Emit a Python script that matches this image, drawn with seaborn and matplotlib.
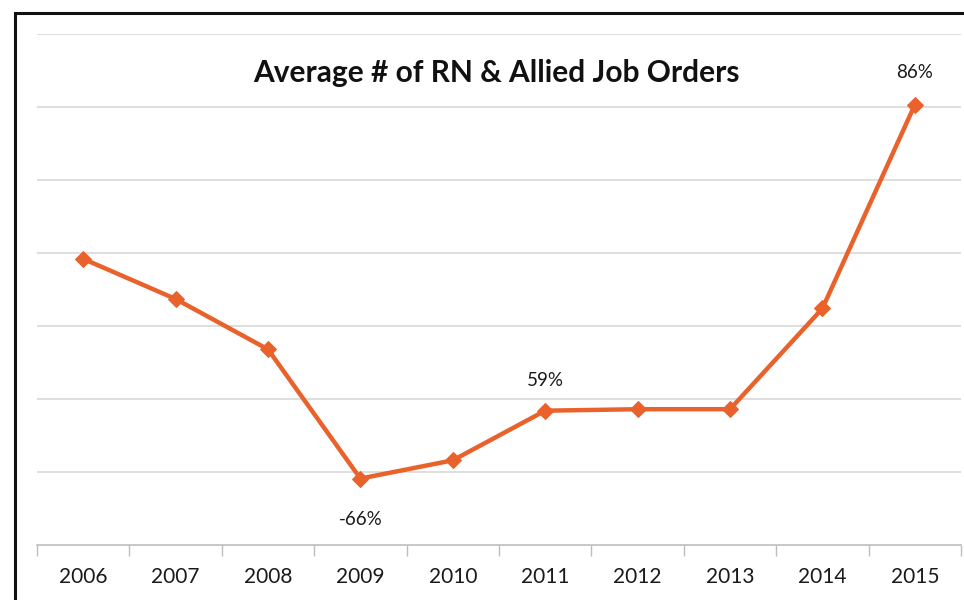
import matplotlib
matplotlib.use("Agg")
import matplotlib.pyplot as plt
import seaborn as sns
import pandas as pd
import numpy as np
from matplotlib.patches import Rectangle

# Average number of RN & allied job orders per year (index, hundreds)
years = ["2006", "2007", "2008", "2009", "2010", "2011", "2012", "2013", "2014", "2015"]
job_orders = [392, 337, 268, 91, 116, 184, 186, 186, 324, 603]

# Year-over-year changes called out on the chart
callout_years = ["2009", "2011", "2015"]
callout_text = ["-66%", "59%", "86%"]

title = "Average # of RN & Allied Job Orders"

sns.set_theme(style="white")
plt.rcParams["font.family"] = ["Lato", "DejaVu Sans"]

df = pd.DataFrame({"year": years, "orders": job_orders})
df["pos"] = np.arange(len(years))

fig = plt.figure(figsize=(9.64, 6.0), dpi=100)
fig.patch.set_facecolor("white")
ax = fig.add_axes([37 / 964, 55 / 600, 924 / 964, 511 / 600])

line_color = "#E9622B"
sns.lineplot(data=df, x="pos", y="orders", ax=ax, color=line_color,
             linewidth=3.2, marker="D", markersize=8.5,
             markeredgecolor=line_color, markerfacecolor=line_color)

ax.set_xlim(-0.5, len(years) - 0.5)
ax.set_ylim(0, 700)
ax.set_yticks(np.arange(100, 701, 100))
ax.yaxis.grid(True, color="#d4d4d4", linewidth=1.1)
ax.set_axisbelow(True)
ax.tick_params(axis="y", left=False, labelleft=False)

# Category labels at centres, tick marks at category boundaries
ax.set_xticks(np.arange(len(years)))
ax.set_xticklabels(years, fontsize=15, color="#1a1a1a")
ax.set_xticks(np.arange(-0.5, len(years)), minor=True)
ax.tick_params(axis="x", which="major", length=0, pad=16)
ax.tick_params(axis="x", which="minor", length=8, width=1.0, color="#bdbdbd",
               bottom=True)
ax.set_xlabel("")
ax.set_ylabel("")

for side in ["top", "left", "right"]:
    ax.spines[side].set_visible(False)
ax.spines["bottom"].set_color("#bdbdbd")
ax.spines["bottom"].set_linewidth(1.2)

# Percentage call-outs
offsets = {"-66%": -41, "59%": 30, "86%": 32}
for yr, txt in zip(callout_years, callout_text):
    i = years.index(yr)
    ax.annotate(txt, (i, job_orders[i]), xytext=(0, offsets[txt]),
                textcoords="offset pixels",
                ha="center", va="center", fontsize=13.5, color="#1a1a1a")

ax.text(0.497, 0.924, title, transform=ax.transAxes, ha="center", va="center",
        fontsize=21.5, fontweight="bold", color="#111111")

# Chart frame
fig.patches.append(Rectangle((15 / 964, -0.05), 1.2, 1 - 13 / 600 + 0.05,
                             transform=fig.transFigure, fill=False,
                             edgecolor="#111111", linewidth=2.2))

fig.savefig("out.png", dpi=100)
